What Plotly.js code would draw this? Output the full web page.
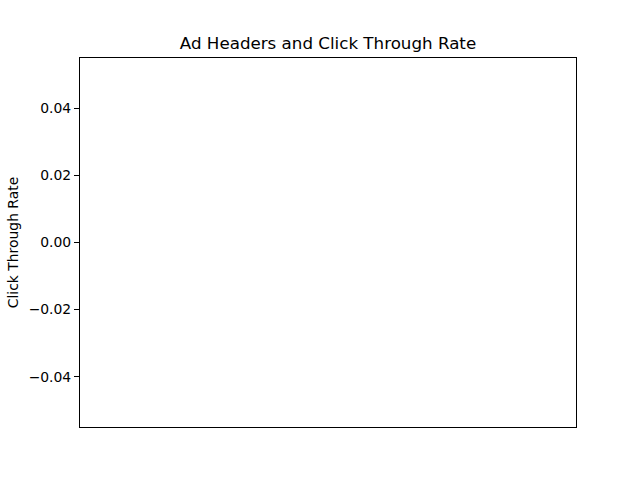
<!DOCTYPE html>
<html>
<head>
<meta charset="utf-8">
<script src="https://cdn.plot.ly/plotly-3.0.1.min.js"></script>
<style>html,body{margin:0;padding:0;background:#fff;}</style>
</head>
<body>
<div id="chart" style="width:640px;height:480px;"></div>
<script>
// The reference chart is empty: no ad headers and no click-through values were plotted.
const adHeaders = [];
const clickThroughRates = [];
const yTickValues = [-0.04, -0.02, 0.00, 0.02, 0.04];

const data = [{
  type: 'bar',
  x: adHeaders,
  y: clickThroughRates,
  marker: {color: '#1f77b4'}
}];

const layout = {
  width: 640,
  height: 480,
  margin: {l: 80, r: 64, t: 58, b: 53},
  paper_bgcolor: '#ffffff',
  plot_bgcolor: '#ffffff',
  font: {family: 'DejaVu Sans, sans-serif', color: '#000000', size: 13.9},
  showlegend: false,
  title: {
    text: 'Ad Headers and Click Through Rate',
    font: {size: 16.7, color: '#000000', family: 'DejaVu Sans, sans-serif'},
    x: 0.5125, xanchor: 'center',
    y: 1 - 43/480, yanchor: 'middle'
  },
  xaxis: {
    range: [-0.5, 0.5],
    showticklabels: false,
    ticks: '',
    showgrid: false,
    zeroline: false,
    showline: true,
    linecolor: '#000000',
    linewidth: 1,
    mirror: true,
    fixedrange: true
  },
  yaxis: {
    range: [-0.055, 0.055],
    tickvals: yTickValues,
    tickformat: '.2f',
    ticks: 'outside',
    ticklen: 5,
    tickwidth: 1,
    tickcolor: '#000000',
    tickfont: {size: 13.9, color: '#000000'},
    showgrid: false,
    zeroline: false,
    showline: true,
    linecolor: '#000000',
    linewidth: 1,
    mirror: true,
    title: {text: 'Click Through Rate', font: {size: 13.9, color: '#000000'}, standoff: 6}
  }
};

Plotly.newPlot('chart', data, layout, {displayModeBar: false, staticPlot: true});
</script>
</body>
</html>
